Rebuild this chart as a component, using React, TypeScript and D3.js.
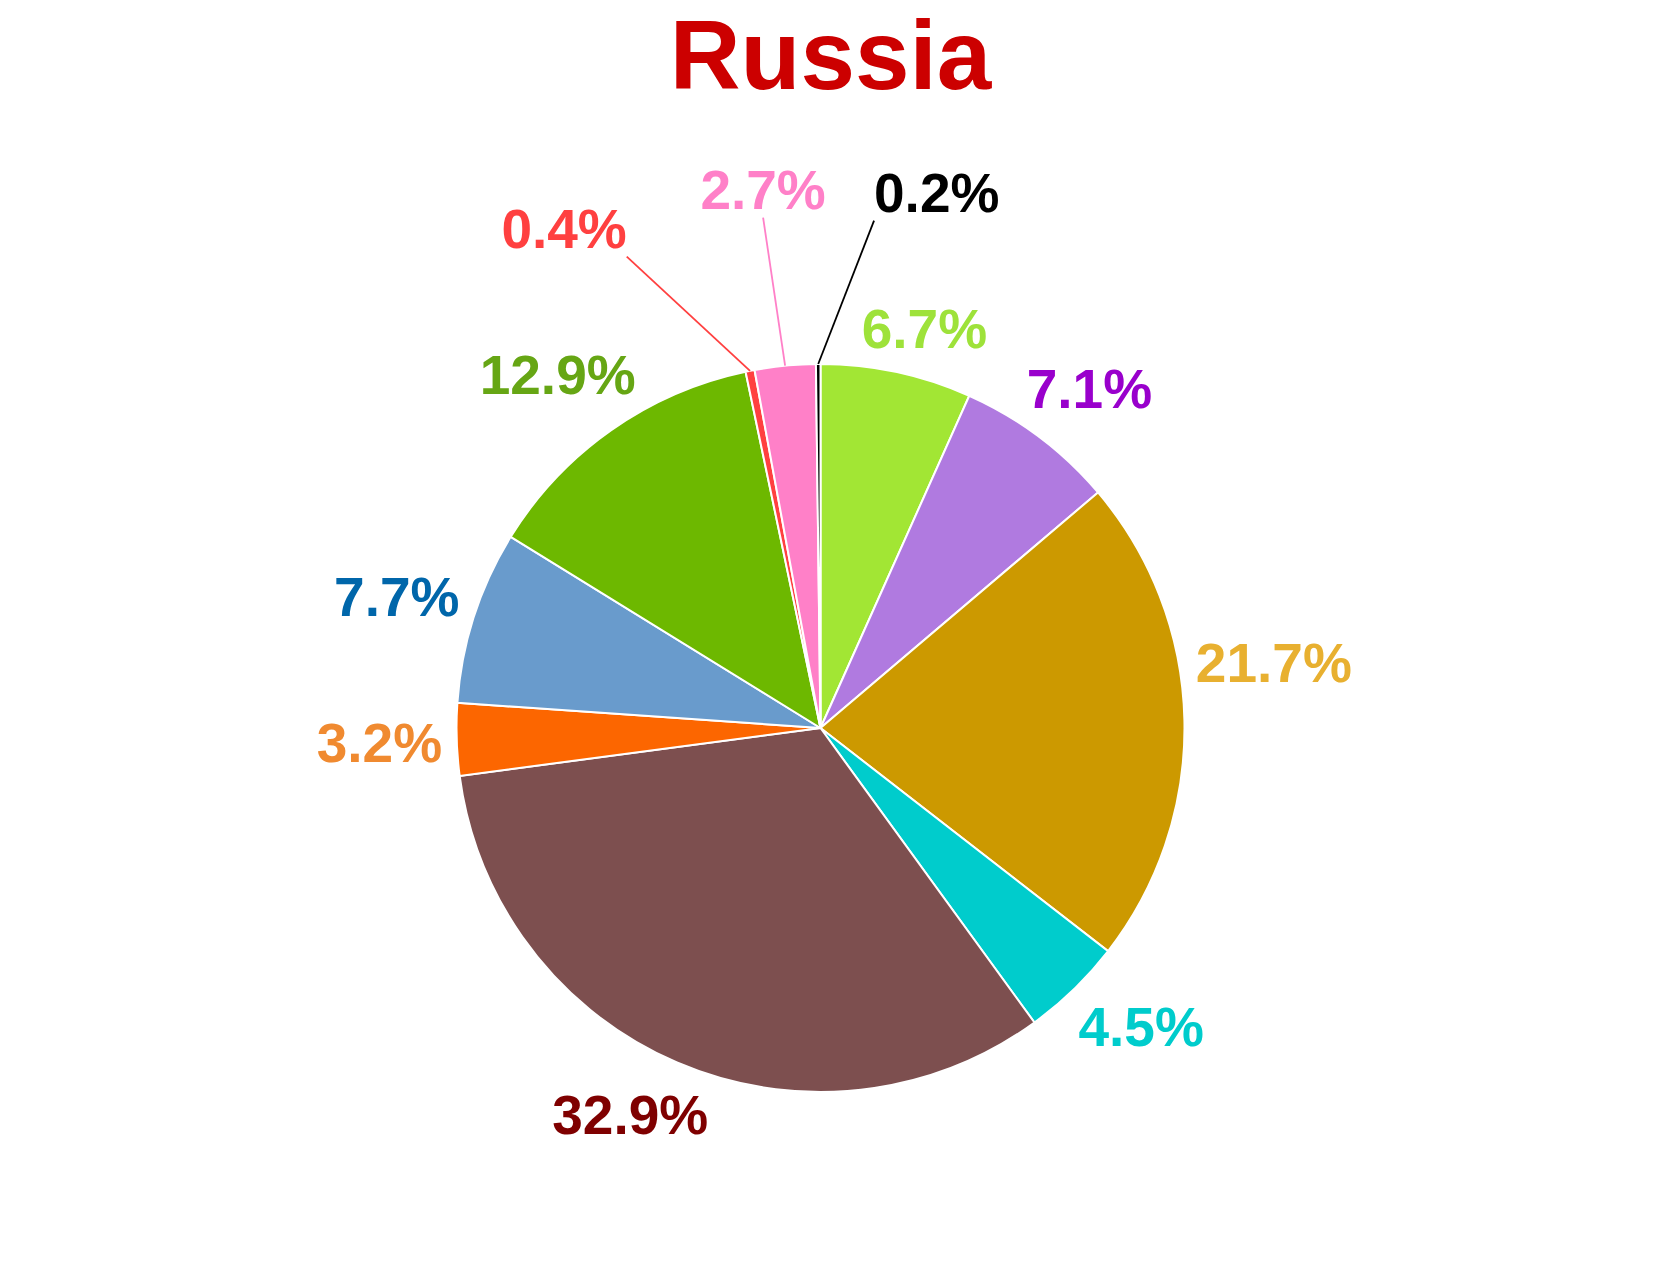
import React from "react";
import * as d3 from "d3";

// shares in percent, clockwise from 12 o'clock
const shares = [6.7, 7.1, 21.7, 4.5, 32.9, 3.2, 7.7, 12.9, 0.4, 2.7, 0.2];
const sliceColors = [
  "#a2e634",
  "#b07ae0",
  "#cc9900",
  "#00cccc",
  "#7d4f4f",
  "#fc6600",
  "#699bcc",
  "#6db800",
  "#ff4040",
  "#ff80c8",
  "#000000",
];
const labelColors = [
  "#9ee23a",
  "#9900cc",
  "#e8b030",
  "#00cccc",
  "#7f0000",
  "#f08a30",
  "#0066aa",
  "#66a614",
  "#ff4040",
  "#ff80c8",
  "#000000",
];
const title = "Russia";

const WIDTH = 1661;
const HEIGHT = 1271;
const CX = 820.5;
const CY = 728;
const RADIUS = 364;
const FONT = "'Liberation Sans', Arial, Helvetica, sans-serif";
const LABEL_SIZE = 55;

// small angle tweaks (degrees) so labels sit where the original put them
const labelNudge = [2.5, 1.5, -7, -3, 3, 0, -0.5, -1.5, -16, -0.5, 12.6];

const charWidth = (c: string) => (c === "." ? 0.278 : c === "%" ? 0.889 : 0.556);
const textWidth = (s: string) =>
  s.split("").reduce((a, c) => a + charWidth(c), 0) * LABEL_SIZE;

const App = () => {
  const pie = d3
    .pie<number>()
    .sort(null)
    .value((d) => d);
  const arc = d3.arc<d3.PieArcDatum<number>>().innerRadius(0).outerRadius(RADIUS);
  const arcs = pie(shares);

  const labels = arcs.map((a, i) => {
    const text = `${a.data.toFixed(1)}%`;
    const mid = (a.startAngle + a.endAngle) / 2;
    const ang = mid + (labelNudge[i] * Math.PI) / 180;
    const w = textWidth(text) / 2;
    const h = 0.37 * LABEL_SIZE;
    const leader = a.data < 3;
    const r0 = leader ? 515 : 378;
    const d = r0 + Math.abs(Math.sin(ang)) * w + Math.abs(Math.cos(ang)) * h;
    const x = CX + d * Math.sin(ang);
    const y = CY - d * Math.cos(ang);
    let line: number[] | null = null;
    if (leader) {
      const sx = CX + RADIUS * Math.sin(mid);
      const sy = CY - RADIUS * Math.cos(mid);
      let ex = x;
      if (sx < x - w) ex = x - w;
      else if (sx > x + w) ex = x + w;
      const ey = y + h + 8;
      line = [sx, sy, ex, ey];
    }
    return { text, x, y, color: labelColors[i], line };
  });

  return (
    <svg
      width={WIDTH}
      height={HEIGHT}
      style={{ position: "absolute", left: 0, top: 0, display: "block", background: "#fff" }}
    >
      <text
        x={WIDTH / 2}
        y={89}
        textAnchor="middle"
        fontFamily={FONT}
        fontWeight="bold"
        fontSize={98}
        fill="#cc0000"
      >
        {title}
      </text>
      <g transform={`translate(${CX},${CY})`}>
        {arcs.map((a, i) => (
          <path key={i} d={arc(a) || ""} fill={sliceColors[i]} stroke="#fff" strokeWidth={2} />
        ))}
      </g>
      {labels.map((l, i) => (
        <g key={i}>
          {l.line && (
            <line
              x1={l.line[0]}
              y1={l.line[1]}
              x2={l.line[2]}
              y2={l.line[3]}
              stroke={l.color}
              strokeWidth={1.8}
            />
          )}
          <text
            x={l.x}
            y={l.y + 0.358 * LABEL_SIZE}
            textAnchor="middle"
            fontFamily={FONT}
            fontWeight="bold"
            fontSize={LABEL_SIZE}
            fill={l.color}
          >
            {l.text}
          </text>
        </g>
      ))}
    </svg>
  );
};

export default App;
